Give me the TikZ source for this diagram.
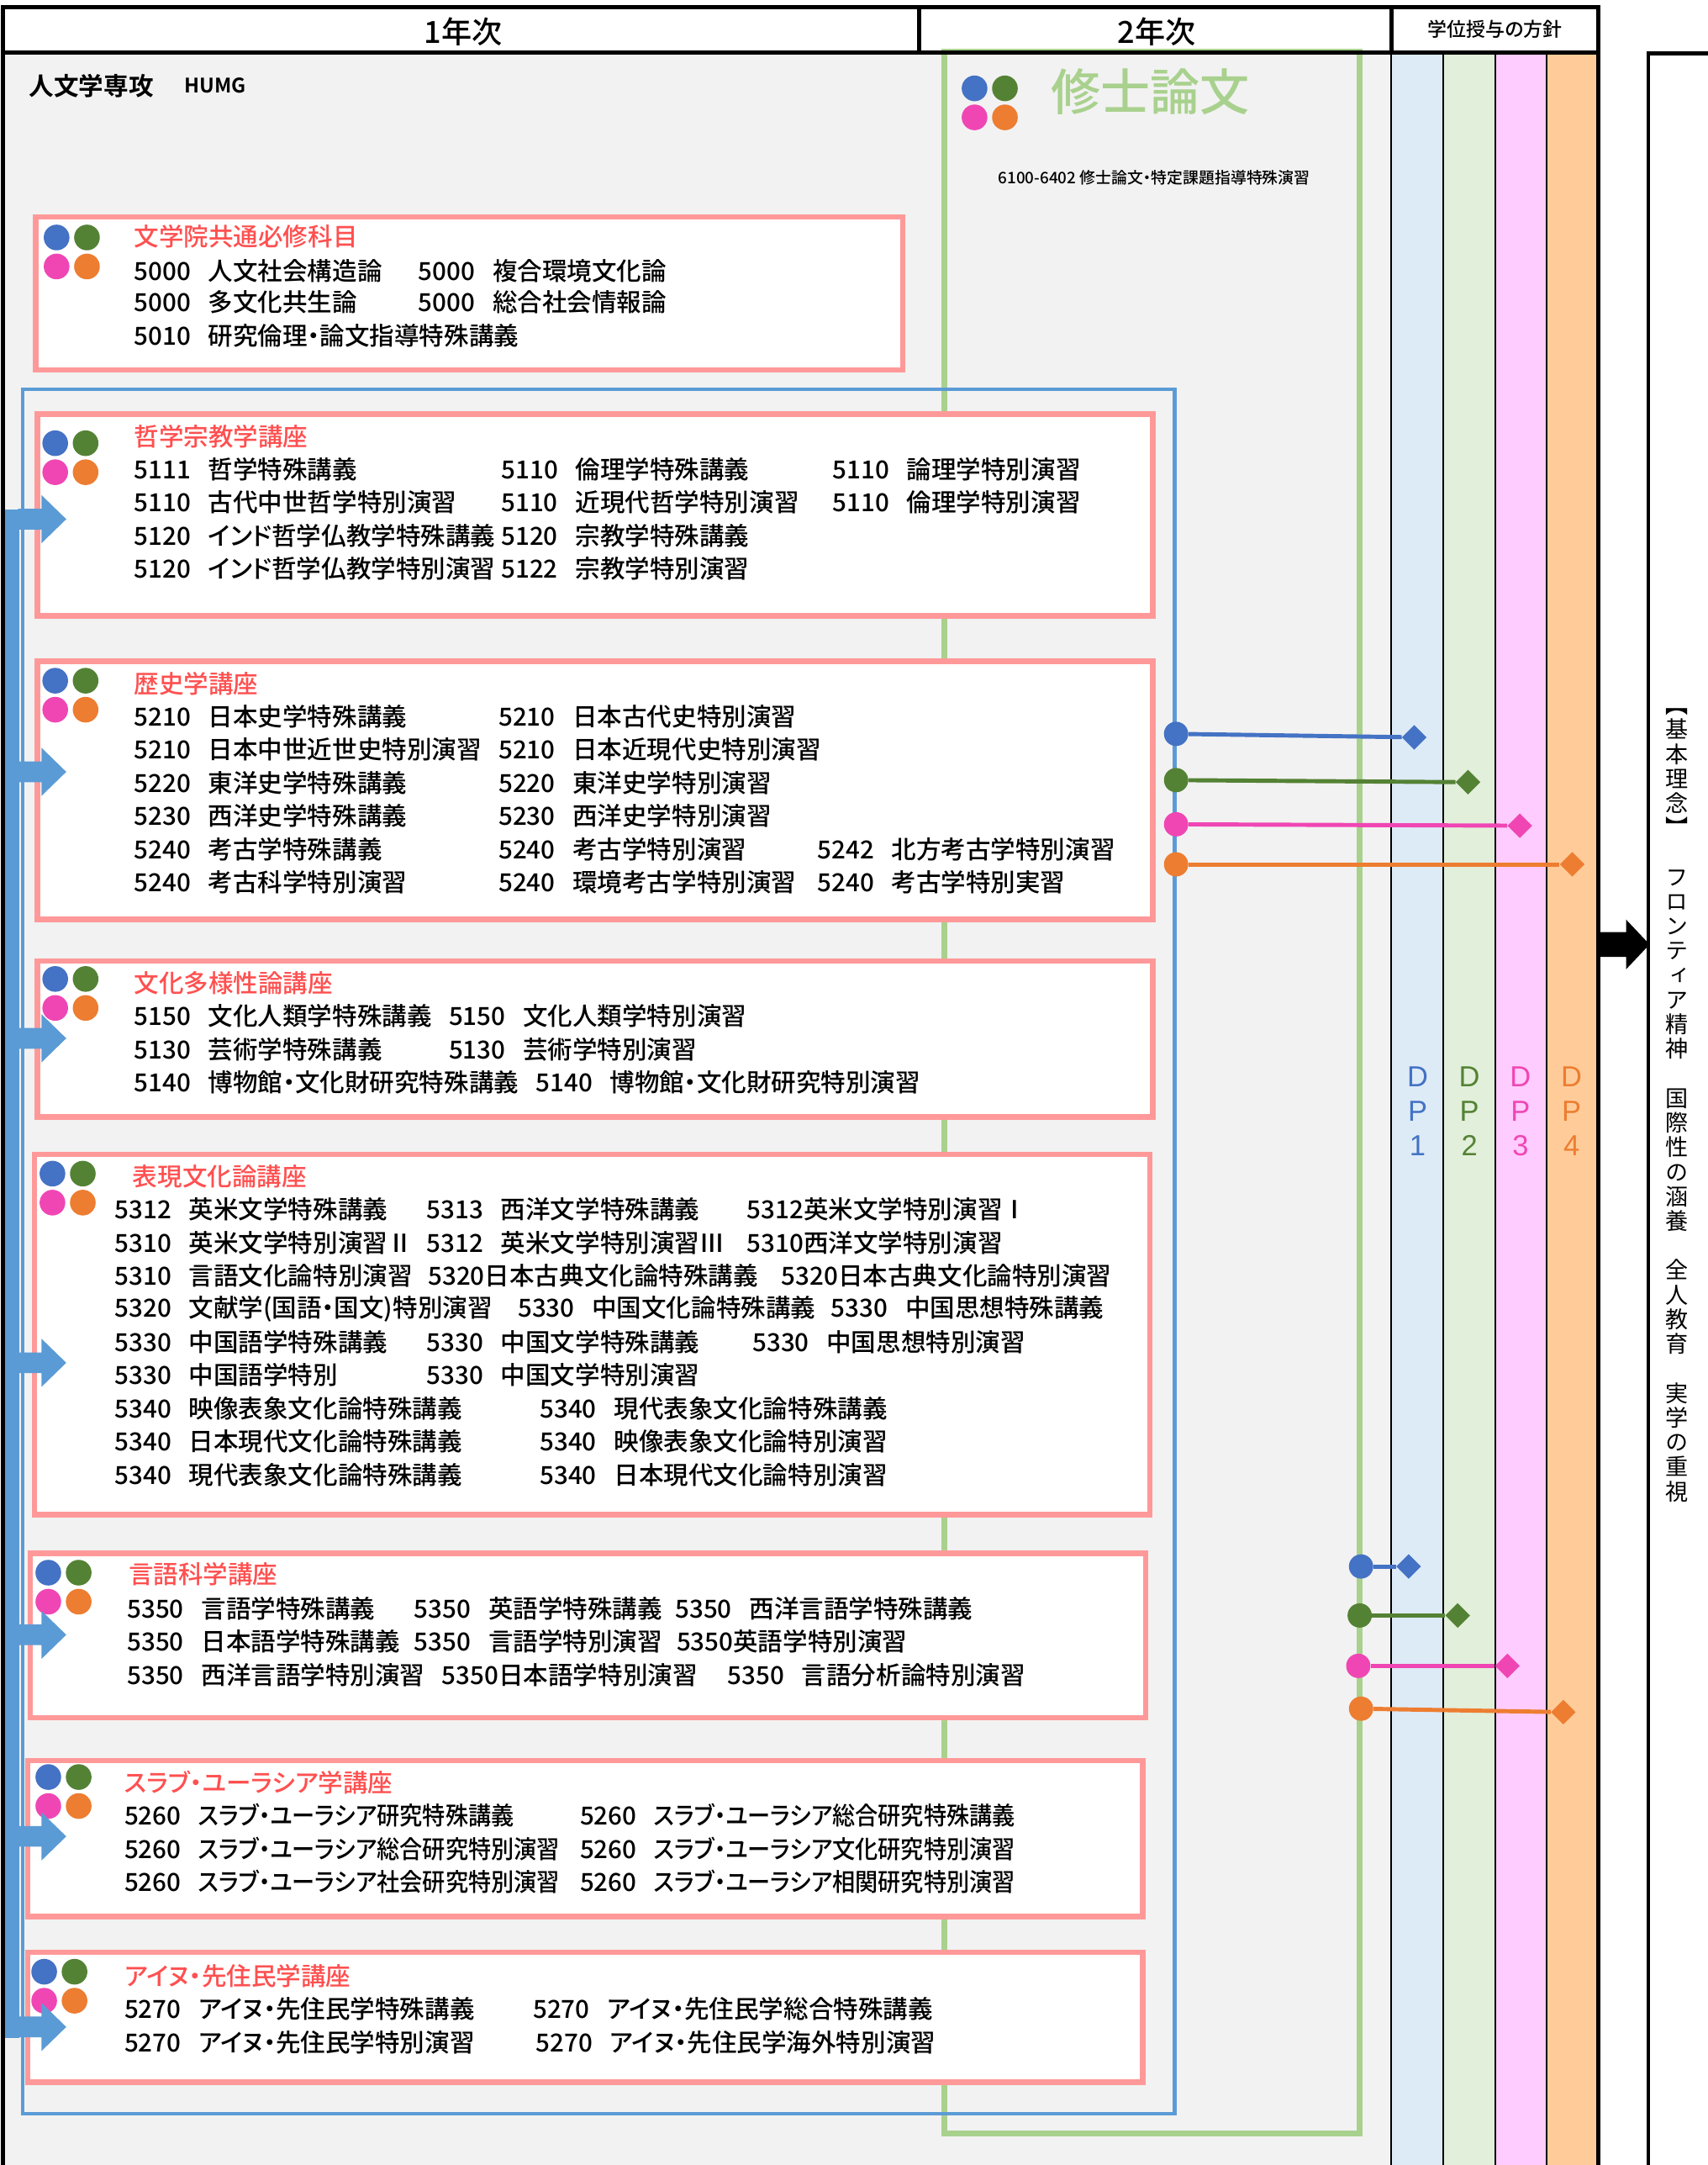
\documentclass[tikz,border=0pt]{standalone}
\usepackage{fontspec}
\usepackage{graphicx}
\setmainfont{Noto Sans CJK JP}[UprightFont={* Medium},BoldFont={* Bold},RawFeature=+palt]
\newfontfamily\tatefont{Noto Sans CJK JP}[RawFeature=+vert]
\newfontfamily\dpfont{Liberation Sans}
\usetikzlibrary{positioning,shapes.geometric}

\definecolor{dpblue}{HTML}{4472C4}
\definecolor{dpgreen}{HTML}{548235}
\definecolor{dppink}{HTML}{F046B4}
\definecolor{dporange}{HTML}{ED7D31}
\definecolor{colblue}{HTML}{DDEBF7}
\definecolor{colgreen}{HTML}{E2EFDA}
\definecolor{colpink}{HTML}{FFCCFF}
\definecolor{colorange}{HTML}{FFCC99}
\definecolor{paneblue}{HTML}{5B9BD5}
\definecolor{panegreen}{HTML}{A9D18E}
\definecolor{boxpink}{HTML}{FF9999}
\definecolor{headred}{HTML}{FF5050}
\definecolor{bggray}{HTML}{F2F2F2}

% course number and name
\newcommand\cn[2]{#1\hspace{.7em}#2}
% same, name squeezed a little
\newcommand\cns[2]{#1\hspace{.7em}\scalebox{0.92}[1]{#2}}
% fixed-width column cell
\newcommand\cell[2]{\makebox[#1pt][l]{#2}}
% the four DP dots
\newcommand\quaddots[2]{%
  \fill[dpblue] (#1,#2) circle (9.3);
  \fill[dpgreen] (#1+22,#2) circle (9.3);
  \fill[dppink] (#1,#2+21) circle (9.3);
  \fill[dporange] (#1+22,#2+21) circle (9.3);}

\tikzset{
  course/.style={anchor=west,inner sep=0pt,font=\fontsize{18}{18}\selectfont},
  boxhead/.style={course,text=headred},
  unitbox/.style={draw=boxpink,line width=4pt,fill=white},
  frame/.style={line width=2.8pt},
  dpdot/.style={circle,inner sep=0pt,minimum size=17.6pt},
  dpdia/.style={diamond,inner sep=0pt,minimum size=18pt},
  dpline/.style={line width=3pt},
  dplab/.style={align=center,inner sep=0pt,font=\dpfont\fontsize{21}{25}\selectfont},
}

\begin{document}
\begin{tikzpicture}[x=1pt,y=-1pt]
  \useasboundingbox (0,0) rectangle (1237,1568);
  % backgrounds
  \fill[white] (0,0) rectangle (1237,1568);
  \fill[bggray] (2,38) rectangle (1008,1568);
  \fill[colblue] (1008,38) rectangle (1045.5,1568);
  \fill[colgreen] (1045.5,38) rectangle (1083.5,1568);
  \fill[colpink] (1083.5,38) rectangle (1120.5,1568);
  \fill[colorange] (1120.5,38) rectangle (1158,1568);
  % second year pane and first year pane
  \draw[panegreen,line width=4pt] (684,37.5) rectangle (985,1545);
  \draw[paneblue,line width=2.5pt] (16.5,282) rectangle (851,1531);

  % common required courses
  \draw[unitbox] (26,157) rectangle (654,268);
  \quaddots{41}{172}
  \node[boxhead] (h1) at (97,171) {文学院共通必修科目};
  \node[course] (r11) at (97,196) {\cell{206}{\cn{5000}{人文社会構造論}}\cn{5000}{複合環境文化論}};
  \node[course] (r12) at (97,219) {\cell{206}{\cn{5000}{多文化共生論}}\cn{5000}{総合社会情報論}};
  \node[course] (r13) at (97,243) {\cn{5010}{研究倫理・論文指導特殊講義}};

  % philosophy and religion
  \draw[unitbox] (27,300) rectangle (835,446);
  \quaddots{40}{321}
  \node[boxhead] (h2) at (97,316) {哲学宗教学講座};
  \node[course] (r21) at (97,340) {\cell{266}{\cn{5111}{哲学特殊講義}}\cell{240}{\cn{5110}{倫理学特殊講義}}\cn{5110}{論理学特別演習}};
  \node[course] (r22) at (97,364) {\cell{266}{\cn{5110}{古代中世哲学特別演習}}\cell{240}{\cn{5110}{近現代哲学特別演習}}\cn{5110}{倫理学特別演習}};
  \node[course] (r23) at (97,388) {\cell{266}{\cn{5120}{インド哲学仏教学特殊講義}}\cn{5120}{宗教学特殊講義}};
  \node[course] (r24) at (97,412) {\cell{266}{\cn{5120}{インド哲学仏教学特別演習}}\cn{5122}{宗教学特別演習}};

  % history
  \draw[unitbox] (27,479) rectangle (835,666);
  \quaddots{40}{493}
  \node[boxhead] (h3) at (97,495) {歴史学講座};
  \node[course] (r31) at (97,519) {\cell{264}{\cn{5210}{日本史学特殊講義}}\cn{5210}{日本古代史特別演習}};
  \node[course] (r32) at (97,543) {\cell{264}{\cn{5210}{日本中世近世史特別演習}}\cn{5210}{日本近現代史特別演習}};
  \node[course] (r33) at (97,567) {\cell{264}{\cn{5220}{東洋史学特殊講義}}\cn{5220}{東洋史学特別演習}};
  \node[course] (r34) at (97,591) {\cell{264}{\cn{5230}{西洋史学特殊講義}}\cn{5230}{西洋史学特別演習}};
  \node[course] (r35) at (97,615) {\cell{264}{\cn{5240}{考古学特殊講義}}\cell{231}{\cn{5240}{考古学特別演習}}\cn{5242}{北方考古学特別演習}};
  \node[course] (r36) at (97,639) {\cell{264}{\cn{5240}{考古科学特別演習}}\cell{231}{\cn{5240}{環境考古学特別演習}}\cn{5240}{考古学特別実習}};

  % cultural diversity
  \draw[unitbox] (27,696) rectangle (835,809);
  \quaddots{40}{709}
  \node[boxhead] (h4) at (97,712) {文化多様性論講座};
  \node[course] (r41) at (97,736) {\cell{228}{\cn{5150}{文化人類学特殊講義}}\cn{5150}{文化人類学特別演習}};
  \node[course] (r42) at (97,760) {\cell{228}{\cn{5130}{芸術学特殊講義}}\cn{5130}{芸術学特別演習}};
  \node[course] (r43) at (97,784) {\cell{291}{\cn{5140}{博物館・文化財研究特殊講義}}\cn{5140}{博物館・文化財研究特別演習}};

  % expressive culture
  \draw[unitbox] (25,836) rectangle (833,1097);
  \quaddots{38}{850}
  \node[boxhead] (h5) at (96,852) {表現文化論講座};
  \node[course] (r51) at (83,876) {\cell{226}{\cn{5312}{英米文学特殊講義}}\cell{232}{\cn{5313}{西洋文学特殊講義}}5312英米文学特別演習Ⅰ};
  \node[course] (r52) at (83,900) {\cell{226}{\cn{5310}{英米文学特別演習Ⅱ}}\cell{232}{\cn{5312}{英米文学特別演習Ⅲ}}5310西洋文学特別演習};
  \node[course] (r53) at (83,924) {\cell{227}{\cn{5310}{言語文化論特別演習}}\cell{256}{5320日本古典文化論特殊講義}5320日本古典文化論特別演習};
  \node[course] (r54) at (83,948) {\cell{292}{\cn{5320}{文献学(国語・国文)特別演習}}\cell{227}{\cn{5330}{中国文化論特殊講義}}\cn{5330}{中国思想特殊講義}};
  \node[course] (r55) at (83,972) {\cell{226}{\cn{5330}{中国語学特殊講義}}\cell{236}{\cn{5330}{中国文学特殊講義}}\cn{5330}{中国思想特別演習}};
  \node[course] (r56) at (83,996) {\cell{226}{\cn{5330}{中国語学特別}}\cn{5330}{中国文学特別演習}};
  \node[course] (r57) at (83,1020) {\cell{308}{\cn{5340}{映像表象文化論特殊講義}}\cn{5340}{現代表象文化論特殊講義}};
  \node[course] (r58) at (83,1044) {\cell{308}{\cn{5340}{日本現代文化論特殊講義}}\cn{5340}{映像表象文化論特別演習}};
  \node[course] (r59) at (83,1068) {\cell{308}{\cn{5340}{現代表象文化論特殊講義}}\cn{5340}{日本現代文化論特別演習}};

  % linguistics
  \draw[unitbox] (22,1125) rectangle (830,1244);
  \quaddots{35}{1139}
  \node[boxhead] (h6) at (93,1140) {言語科学講座};
  \node[course] (r61) at (92,1165) {\cell{208}{\cn{5350}{言語学特殊講義}}\cell{189}{\cn{5350}{英語学特殊講義}}\cn{5350}{西洋言語学特殊講義}};
  \node[course] (r62) at (92,1189) {\cell{208}{\cn{5350}{日本語学特殊講義}}\cell{190}{\cn{5350}{言語学特別演習}}5350英語学特別演習};
  \node[course] (r63) at (92,1213) {\cell{228}{\cn{5350}{西洋言語学特別演習}}\cell{207}{5350日本語学特別演習}\cn{5350}{言語分析論特別演習}};

  % slavic-eurasian studies
  \draw[unitbox] (20,1275) rectangle (828,1388);
  \quaddots{35}{1287}
  \node[boxhead] (h7) at (90,1291) {スラブ・ユーラシア学講座};
  \node[course] (r71) at (90,1315) {\cell{330}{\cns{5260}{スラブ・ユーラシア研究特殊講義}}\cns{5260}{スラブ・ユーラシア総合研究特殊講義}};
  \node[course] (r72) at (90,1339) {\cell{330}{\cns{5260}{スラブ・ユーラシア総合研究特別演習}}\cns{5260}{スラブ・ユーラシア文化研究特別演習}};
  \node[course] (r73) at (90,1363) {\cell{330}{\cns{5260}{スラブ・ユーラシア社会研究特別演習}}\cns{5260}{スラブ・ユーラシア相関研究特別演習}};

  % ainu and indigenous studies
  \draw[unitbox] (20,1414) rectangle (828,1508);
  \quaddots{32}{1428}
  \node[boxhead] (h8) at (90,1431) {アイヌ・先住民学講座};
  \node[course] (r81) at (90,1455) {\cell{296}{\cn{5270}{アイヌ・先住民学特殊講義}}\cn{5270}{アイヌ・先住民学総合特殊講義}};
  \node[course] (r82) at (90,1479) {\cell{298}{\cn{5270}{アイヌ・先住民学特別演習}}\cn{5270}{アイヌ・先住民学海外特別演習}};

  % feeder bar with its arrows
  \fill[paneblue] (2,369) rectangle (14,1476);
  \foreach \ay in {376,559,752,987,1184,1330,1468}
    \fill[paneblue] (13,\ay-7.5) -- (30,\ay-7.5) -- (30,\ay-17.5) -- (48,\ay)
      -- (30,\ay+17.5) -- (30,\ay+7.5) -- (13,\ay+7.5) -- cycle;

  % master's thesis
  \quaddots{706}{64}
  \node[anchor=west,inner sep=0pt,text=panegreen,font=\fontsize{36}{36}\selectfont] (thesis) at (761,66.5) {修士論文};
  \node[anchor=west,inner sep=0pt,font=\fontsize{11.5}{11.5}\selectfont] (thesiscode) at (723,129) {6100-6402 修士論文・特定課題指導特殊演習};

  % table frame
  \foreach \cx in {1008,1045.5,1083.5,1120.5}
    \draw[line width=1.2pt] (\cx,38) -- (\cx,1568);
  \draw[frame] (2,1568) -- (2,5) -- (1158,5) -- (1158,1568);
  \draw[frame] (2,38) -- (1158,38);
  \draw[frame] (666,5) -- (666,38);
  \draw[frame] (1008,5) -- (1008,38);
  \draw[frame] (1194,1570) -- (1194,38.5) -- (1240,38.5);

  % header texts
  \node[font=\fontsize{22}{22}\selectfont] (year1) at (335.5,23) {1年次};
  \node[font=\fontsize{22}{22}\selectfont] (year2) at (838,23) {2年次};
  \node[font=\fontsize{14}{14}\selectfont] (policy) at (1083,21) {学位授与の方針};
  \node[anchor=west,inner sep=0pt,font=\bfseries\fontsize{18}{18}\selectfont] (major) at (21,62) {人文学専攻};
  \node[right=22pt of major,inner sep=0pt,font=\bfseries\fontsize{14.5}{14.5}\selectfont] (majorcode) {HUMG};

  % links from history to the DPs
  \node[dpdot,fill=dpblue] (ha) at (852,531.5) {};
  \node[dpdot,fill=dpgreen] (hb) at (852,565) {};
  \node[dpdot,fill=dppink] (hc) at (852,597) {};
  \node[dpdot,fill=dporange] (hd) at (852,626) {};
  \node[dpdia,fill=dpblue] (hda) at (1024.5,534) {};
  \node[dpdia,fill=dpgreen] (hdb) at (1063.5,566.5) {};
  \node[dpdia,fill=dppink] (hdc) at (1101,598) {};
  \node[dpdia,fill=dporange] (hdd) at (1139,626) {};
  \draw[dpline,dpblue] (ha) -- (hda);
  \draw[dpline,dpgreen] (hb) -- (hdb);
  \draw[dpline,dppink] (hc) -- (hdc);
  \draw[dpline,dporange] (hd) -- (hdd);
  % links from the thesis to the DPs
  \node[dpdot,fill=dpblue] (ta) at (986,1134.5) {};
  \node[dpdot,fill=dpgreen] (tb) at (985,1170) {};
  \node[dpdot,fill=dppink] (tc) at (984,1206.5) {};
  \node[dpdot,fill=dporange] (td) at (986,1237.5) {};
  \node[dpdia,fill=dpblue] (tda) at (1020.5,1134.5) {};
  \node[dpdia,fill=dpgreen] (tdb) at (1056,1170) {};
  \node[dpdia,fill=dppink] (tdc) at (1092,1206.5) {};
  \node[dpdia,fill=dporange] (tdd) at (1132.5,1240) {};
  \draw[dpline,dpblue] (ta) -- (tda);
  \draw[dpline,dpgreen] (tb) -- (tdb);
  \draw[dpline,dppink] (tc) -- (tdc);
  \draw[dpline,dporange] (td) -- (tdd);

  % DP labels
  \node[dplab,text=dpblue] (dp1) at (1027,805) {D\\P\\1};
  \node[dplab,text=dpgreen] (dp2) at (1064.5,805) {D\\P\\2};
  \node[dplab,text=dppink] (dp3) at (1101.5,805) {D\\P\\3};
  \node[dplab,text=dporange] (dp4) at (1138.5,805) {D\\P\\4};

  % policy arrow and basic ideals
  \fill (1159,675) -- (1178,675) -- (1178,666) -- (1195,684) -- (1178,702)
    -- (1178,693) -- (1159,693) -- cycle;
  \node[anchor=north,align=center,inner sep=0pt,font=\tatefont\fontsize{16.5}{17.8}\selectfont] (ideals) at (1215,513)
    {【\\基\\本\\理\\念\\】\\[17.8pt]フ\\ロ\\ン\\テ\\ィ\\ア\\精\\神\\[17.8pt]国\\際\\性\\の\\涵\\養\\[17.8pt]全\\人\\教\\育\\[17.8pt]実\\学\\の\\重\\視};
\end{tikzpicture}
\end{document}
